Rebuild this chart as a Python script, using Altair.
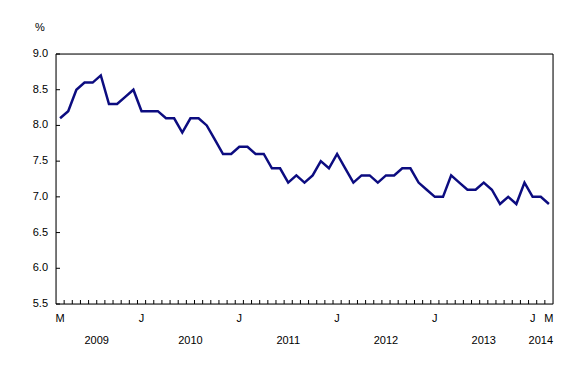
import altair as alt
import pandas as pd

# Monthly series, March 2009 to March 2014 (%)
values = [8.1, 8.2, 8.5, 8.6, 8.6, 8.7, 8.3, 8.3, 8.4, 8.5,
          8.2, 8.2, 8.2, 8.1, 8.1, 7.9, 8.1, 8.1, 8.0, 7.8,
          7.6, 7.6, 7.7, 7.7, 7.6, 7.6, 7.4, 7.4, 7.2, 7.3,
          7.2, 7.3, 7.5, 7.4, 7.6, 7.4, 7.2, 7.3, 7.3, 7.2,
          7.3, 7.3, 7.4, 7.4, 7.2, 7.1, 7.0, 7.0, 7.3, 7.2,
          7.1, 7.1, 7.2, 7.1, 6.9, 7.0, 6.9, 7.2, 7.0, 7.0, 6.9]
months = pd.date_range("2009-03-01", periods=len(values), freq="MS")
month_letters = ["J", "F", "M", "A", "M", "J", "J", "A", "S", "O", "N", "D"]
labelled_months = ["2009-03", "2010-01", "2011-01", "2012-01", "2013-01", "2014-01", "2014-03"]
y_ticks = [5.5, 6.0, 6.5, 7.0, 7.5, 8.0, 8.5, 9.0]

W, H = 497, 250
FONT = "Liberation Sans"

df = pd.DataFrame({
    "i": list(range(len(values))),
    "month": [m.strftime("%Y-%m") for m in months],
    "year": [m.year for m in months],
    "value": values,
})

lab_df = pd.DataFrame({
    "i": [int(df.index[df["month"] == m][0]) for m in labelled_months],
    "lab": [month_letters[int(m[5:]) - 1] for m in labelled_months],
})

# year label centres: full years span January to next January, partial years their months
yr_rows = []
for y, g in df.groupby("year"):
    if len(g) == 12:
        c = (g["i"].min() + g["i"].min() + 12) / 2
    else:
        c = g["i"].mean()
    yr_rows.append({"i": c, "lab": str(y)})
yr_df = pd.DataFrame(yr_rows)

bnd_df = pd.DataFrame({"b": [i + 0.5 for i in range(len(values) - 1)]})
yt_df = pd.DataFrame({"v": y_ticks})

xs = alt.Scale(domain=[-0.5, len(values) - 0.5], nice=False, zero=False)
ys = alt.Scale(domain=[5.5, 9.0], nice=False, zero=False)

line = alt.Chart(df).mark_line(color="#0c0c80", strokeWidth=2.5).encode(
    x=alt.X("i:Q", scale=xs, axis=None),
    y=alt.Y("value:Q", scale=ys, axis=None),
)

frame = alt.Chart(pd.DataFrame({"f": [0]})).mark_rect(
    fill=None, fillOpacity=0, stroke="black", strokeWidth=1).encode(
    x=alt.value(0), x2=alt.value(W), y=alt.value(0), y2=alt.value(H))

xt = alt.Chart(bnd_df).mark_rule(color="black", strokeWidth=1).encode(
    x=alt.X("b:Q", scale=xs, axis=None),
    y=alt.value(H), y2=alt.value(H - 4),
)
yt = alt.Chart(yt_df).mark_rule(color="black", strokeWidth=1).encode(
    y=alt.Y("v:Q", scale=ys, axis=None),
    x=alt.value(0), x2=alt.value(4),
)
ytl = alt.Chart(yt_df).mark_text(font=FONT, fontSize=11, color="black",
                                 align="right", baseline="middle").encode(
    y=alt.Y("v:Q", scale=ys, axis=None),
    x=alt.value(-8), text=alt.Text("v:Q", format=".1f"),
)
mlab = alt.Chart(lab_df).mark_text(font=FONT, fontSize=11, color="black",
                                   baseline="middle").encode(
    x=alt.X("i:Q", scale=xs, axis=None), y=alt.value(H + 15), text="lab:N")
ylab = alt.Chart(yr_df).mark_text(font=FONT, fontSize=11, color="black",
                                  baseline="middle").encode(
    x=alt.X("i:Q", scale=xs, axis=None), y=alt.value(H + 37), text="lab:N")
pct = alt.Chart(pd.DataFrame({"t": ["%"]})).mark_text(
    font=FONT, fontSize=11, color="black", baseline="middle").encode(
    x=alt.value(-16), y=alt.value(-26), text="t:N")

chart = alt.layer(frame, line, xt, yt, ytl, mlab, ylab, pct).properties(
    width=W, height=H,
    padding={"left": 48, "top": 46, "right": 20, "bottom": 60},
    autosize=alt.AutoSizeParams(type="none"),
).configure_view(stroke=None).configure(background="white")

chart.save("out.html", embed_options={"renderer": "svg", "actions": False})
